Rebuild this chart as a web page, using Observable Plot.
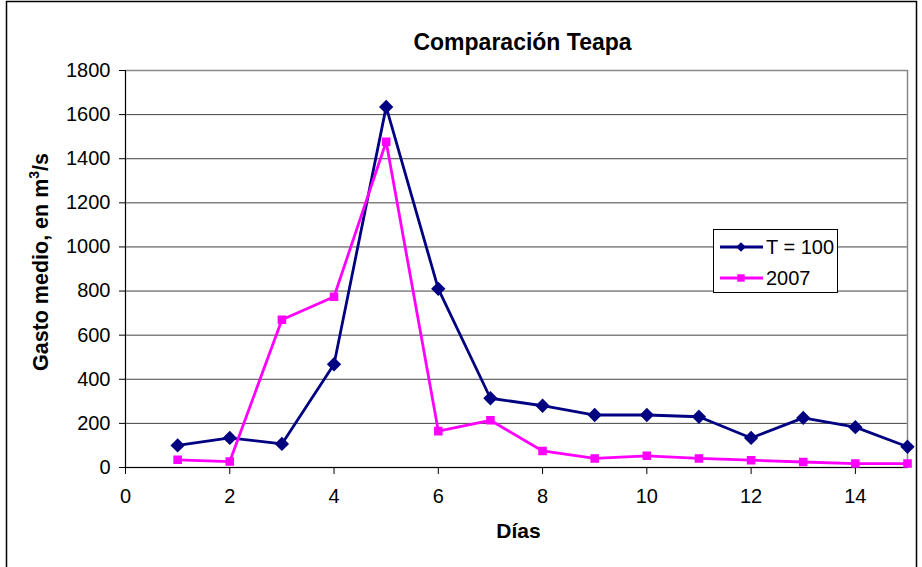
<!DOCTYPE html>
<html>
<head>
<meta charset="utf-8">
<script src="https://cdn.jsdelivr.net/npm/d3@7"></script>
<script src="https://cdn.jsdelivr.net/npm/@observablehq/plot@0.6"></script>
<style>
  html, body { margin: 0; padding: 0; background: #fff; }
  #chart { width: 922px; height: 567px; }
</style>
</head>
<body>
<div id="chart"></div>
<script>
// ---- data ----
const days = [1, 2, 3, 4, 5, 6, 7, 8, 9, 10, 11, 12, 13, 14, 15];
const t100 = [100, 134, 107, 468, 1635, 810, 314, 280, 238, 238, 230, 134, 225, 183, 94];
const y2007 = [35, 27, 670, 774, 1477, 165, 214, 75, 41, 53, 41, 33, 25, 18, 18];
const seriesNames = ["T = 100", "2007"];
const xTicks = [0, 2, 4, 6, 8, 10, 12, 14];
const yTicks = [0, 200, 400, 600, 800, 1000, 1200, 1400, 1600, 1800];
const titleText = "Comparación Teapa";
const xLabelText = "Días";

const rows = [];
days.forEach((d, i) => rows.push({day: d, value: t100[i], serie: seriesNames[0]}));
days.forEach((d, i) => rows.push({day: d, value: y2007[i], serie: seriesNames[1]}));
const rowsA = rows.filter(r => r.serie === seriesNames[0]);
const rowsB = rows.filter(r => r.serie === seriesNames[1]);

const navy = "#000080";
const magenta = "#FF00FF";
const font = "'Liberation Sans', Arial, sans-serif";

const plot = Plot.plot({
  width: 922,
  height: 567,
  marginLeft: 125,
  marginRight: 15,
  marginTop: 70,
  marginBottom: 100,
  style: {fontFamily: font, fontSize: "20px", color: "#000", background: "#fff", overflow: "visible"},
  x: {domain: [0, 15], label: null},
  y: {domain: [0, 1800], label: null},
  marks: [
    Plot.gridY(yTicks, {stroke: "#222", strokeOpacity: 0.85, strokeWidth: 1}),
    Plot.frame({stroke: "#888", strokeWidth: 1.5}),
    Plot.ruleX([0], {stroke: "#000", strokeWidth: 1}),
    Plot.ruleY([0], {stroke: "#000", strokeWidth: 1}),
    Plot.axisX(xTicks, {tickSize: 7, tickPadding: 14, tickFormat: d3.format("d")}),
    Plot.axisY(yTicks, {tickSize: 6, tickPadding: 9, tickFormat: d3.format("d")}),
    Plot.line(rowsA, {x: "day", y: "value", stroke: navy, strokeWidth: 2.8}),
    Plot.line(rowsB, {x: "day", y: "value", stroke: magenta, strokeWidth: 2.8}),
    Plot.dot(rowsA, {x: "day", y: "value", symbol: "diamond2", r: 5.5, fill: navy, stroke: navy}),
    Plot.dot(rowsB, {x: "day", y: "value", symbol: "square2", r: 4.5, fill: magenta, stroke: magenta}),
    Plot.text([titleText], {frameAnchor: "top", dx: 6, dy: -37, fontSize: 23, fontWeight: "bold", text: d => d}),
    Plot.text([xLabelText], {frameAnchor: "bottom", dx: 2, dy: 70, fontSize: 21, fontWeight: "bold", text: d => d})
  ]
});

document.getElementById("chart").appendChild(plot);

const svg = d3.select(plot);
// enforce tick label font size
svg.selectAll("g[aria-label='x-axis tick label'], g[aria-label='y-axis tick label']")
  .attr("font-size", 20).style("font-size", "20px");

// outer border
svg.append("rect")
  .attr("x", 6.5).attr("y", 1.5).attr("width", 910).attr("height", 580)
  .attr("fill", "none").attr("stroke", "#000").attr("stroke-width", 1.5);

// y axis label with superscript
const yl = svg.append("text")
  .attr("transform", "translate(48,262) rotate(-90)")
  .attr("text-anchor", "middle")
  .attr("font-family", font)
  .attr("font-size", 21.5)
  .attr("font-weight", "bold")
  .attr("fill", "#000");
yl.append("tspan").text("Gasto medio, en m");
yl.append("tspan").attr("font-size", 14).attr("dy", -9).text("3");
yl.append("tspan").attr("dy", 9).text("/s");

// legend
const lg = svg.append("g").attr("font-family", font).attr("font-size", 20).attr("text-anchor", "start");
lg.append("rect").attr("x", 713.5).attr("y", 229.5).attr("width", 124).attr("height", 63)
  .attr("fill", "#fff").attr("stroke", "#000").attr("stroke-width", 1);
const items = [
  {name: seriesNames[0], color: navy, sym: d3.symbolDiamond2, size: 60, y: 247},
  {name: seriesNames[1], color: magenta, sym: d3.symbolSquare2, size: 70, y: 278}
];
items.forEach(it => {
  lg.append("line").attr("x1", 720).attr("x2", 763).attr("y1", it.y).attr("y2", it.y)
    .attr("stroke", it.color).attr("stroke-width", 2.8);
  lg.append("path").attr("d", d3.symbol(it.sym, it.size)()).attr("transform", `translate(741,${it.y})`)
    .attr("fill", it.color);
  lg.append("text").attr("x", 766).attr("y", it.y).attr("dy", "0.35em").attr("fill", "#000")
    .attr("text-anchor", "start").text(it.name);
});
</script>
</body>
</html>
